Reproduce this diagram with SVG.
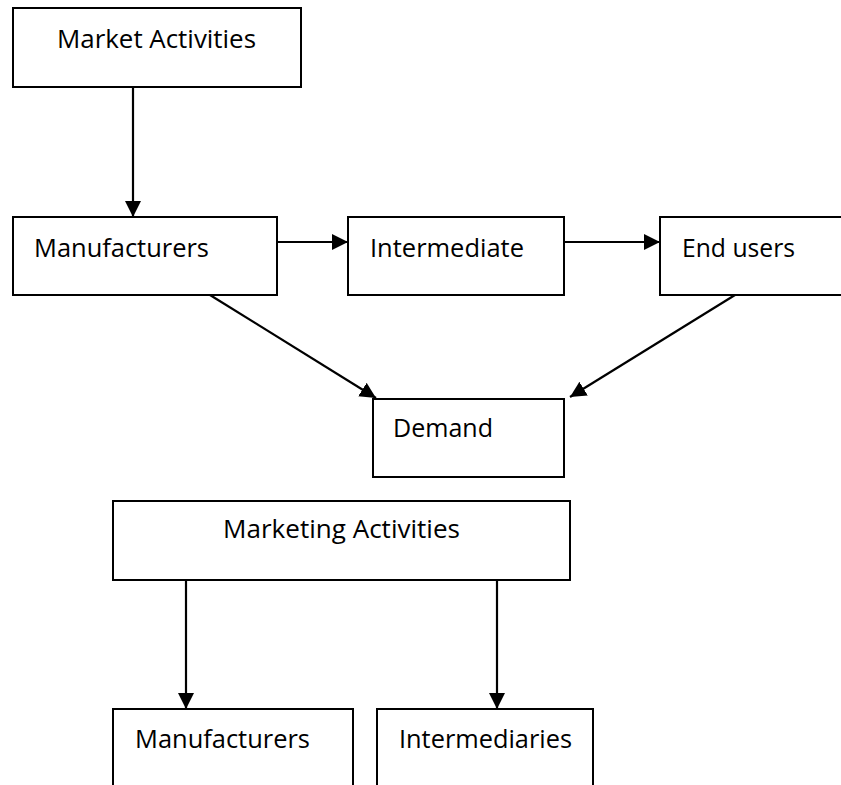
<svg xmlns="http://www.w3.org/2000/svg" width="841" height="785" viewBox="0 0 841 785">
  <style>
    .box { fill: #ffffff; stroke: #000000; stroke-width: 2; }
    .lbl { font-family: "Open Sans", "Liberation Sans", sans-serif; font-size: 25.5px; fill: #000000; }
    .wire { stroke: #000000; stroke-width: 2.2; fill: none; marker-end: url(#head); }
  </style>
  <defs>
    <marker id="head" markerUnits="userSpaceOnUse" markerWidth="16" markerHeight="16" refX="16" refY="8" orient="auto" viewBox="0 0 16 16">
      <path d="M0,0 L16,8 L0,16 z" fill="#000000"/>
    </marker>
  </defs>
  <rect width="841" height="785" fill="#ffffff"/>

  <g id="market-activities">
    <rect class="box" x="13" y="8" width="288" height="79"/>
    <text class="lbl" x="57" y="48" textLength="199" lengthAdjust="spacingAndGlyphs">Market Activities</text>
  </g>
  <g id="manufacturers">
    <rect class="box" x="13" y="217" width="264" height="78"/>
    <text class="lbl" x="34" y="257" textLength="175" lengthAdjust="spacingAndGlyphs">Manufacturers</text>
  </g>
  <g id="intermediate">
    <rect class="box" x="348" y="217" width="216" height="78"/>
    <text class="lbl" x="370" y="257" textLength="154" lengthAdjust="spacingAndGlyphs">Intermediate</text>
  </g>
  <g id="end-users">
    <rect class="box" x="660" y="217" width="200" height="78"/>
    <text class="lbl" x="682" y="257" textLength="113" lengthAdjust="spacingAndGlyphs">End users</text>
  </g>
  <g id="demand">
    <rect class="box" x="373" y="399" width="191" height="78"/>
    <text class="lbl" x="393" y="437" textLength="100" lengthAdjust="spacingAndGlyphs">Demand</text>
  </g>
  <g id="marketing-activities">
    <rect class="box" x="113" y="501" width="457" height="79"/>
    <text class="lbl" x="223" y="538" textLength="237" lengthAdjust="spacingAndGlyphs">Marketing Activities</text>
  </g>
  <g id="manufacturers-2">
    <rect class="box" x="113" y="709" width="240" height="100"/>
    <text class="lbl" x="135" y="748" textLength="175" lengthAdjust="spacingAndGlyphs">Manufacturers</text>
  </g>
  <g id="intermediaries">
    <rect class="box" x="377" y="709" width="216" height="100"/>
    <text class="lbl" x="399" y="748" textLength="173" lengthAdjust="spacingAndGlyphs">Intermediaries</text>
  </g>

  <g id="connectors">
    <line class="wire" x1="133" y1="87" x2="133" y2="217"/>
    <line class="wire" x1="277" y1="242" x2="348" y2="242"/>
    <line class="wire" x1="564" y1="242" x2="660" y2="242"/>
    <line class="wire" x1="210" y1="295" x2="376" y2="398"/>
    <line class="wire" x1="735" y1="295" x2="570" y2="397"/>
    <line class="wire" x1="186" y1="580" x2="186" y2="709"/>
    <line class="wire" x1="497" y1="580" x2="497" y2="709"/>
  </g>
</svg>
